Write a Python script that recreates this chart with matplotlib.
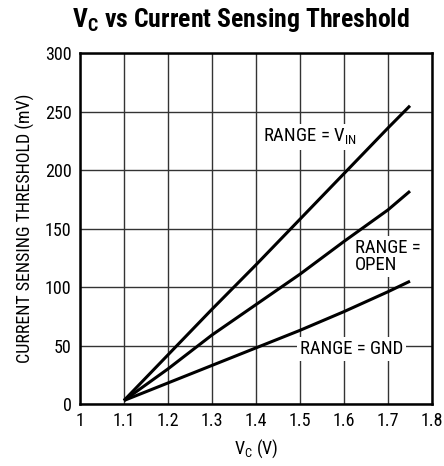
import matplotlib
matplotlib.use('Agg')
import matplotlib.pyplot as plt

plt.rcParams['font.family'] = ['Roboto Condensed', 'Liberation Sans', 'DejaVu Sans']

# Data
vc = [1.1, 1.2, 1.3, 1.4, 1.5, 1.6, 1.7, 1.75]
vin_mv = [3, 42, 81, 119, 158, 197, 236, 255]
open_mv = [3, 30, 59, 85, 111, 139, 166, 182]
gnd_mv = [3, 18, 33, 48, 63, 79, 96, 105]

xticks = [1, 1.1, 1.2, 1.3, 1.4, 1.5, 1.6, 1.7, 1.8]
xticklabels = ['1', '1.1', '1.2', '1.3', '1.4', '1.5', '1.6', '1.7', '1.8']
yticks = [0, 50, 100, 150, 200, 250, 300]

fig = plt.figure(figsize=(4.44, 4.66), dpi=100)
ax = fig.add_axes([0.180, 0.133, 0.793, 0.753])

for y in (vin_mv, open_mv, gnd_mv):
    ax.plot(vc, y, color='black', lw=2.2, solid_capstyle='butt', zorder=4)

ax.set_xlim(1, 1.8)
ax.set_ylim(0, 300)
ax.set_xticks(xticks)
ax.set_xticklabels(xticklabels)
ax.set_yticks(yticks)
ax.tick_params(length=0, labelsize=13, pad=6)
ax.grid(True, color='#333333', lw=1.0)
ax.set_axisbelow(True)
for s in ax.spines.values():
    s.set_linewidth(1.8)

ax.set_xlabel('V$_\\mathregular{C}$ (V)', fontsize=13, labelpad=5)
ax.set_ylabel('CURRENT SENSING THRESHOLD (mV)', fontsize=13, labelpad=7)
fig.text(0.543, 0.957, 'V$_\\mathregular{C}$ vs Current Sensing Threshold',
         ha='center', va='center', fontsize=18.5, fontweight='bold')

box = dict(facecolor='white', edgecolor='none', pad=2)
ax.text(1.415, 228, 'RANGE = V$_\\mathregular{IN}$', fontsize=13.5, va='center', ha='left',
        bbox=box, zorder=3)
ax.text(1.625, 126, 'RANGE =\nOPEN', fontsize=13.5, va='center', ha='left',
        linespacing=0.95, bbox=box, zorder=3)
ax.text(1.5, 47, 'RANGE = GND', fontsize=13.5, va='center', ha='left',
        bbox=box, zorder=3)

fig.savefig('out.png', dpi=100)
